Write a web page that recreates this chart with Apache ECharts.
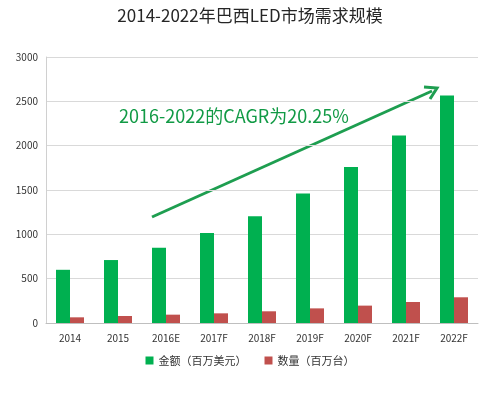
<!DOCTYPE html>
<html><head><meta charset="utf-8">
<script src="https://cdn.jsdelivr.net/npm/echarts@6/dist/echarts.min.js"></script>
<style>html,body{margin:0;padding:0;background:#fff}#c{width:500px;height:395px}</style>
</head><body><div id="c"></div>
<script>
const categories = ['2014','2015','2016E','2017F','2018F','2019F','2020F','2021F','2022F'];
const amount = [600, 710, 850, 1015, 1205, 1460, 1760, 2115, 2565];
const quantity = [64, 79, 94, 109, 132, 165, 196, 237, 290];
const seriesNames = ['金额（百万美元）', '数量（百万台）'];
const yTicks = [0, 500, 1000, 1500, 2000, 2500, 3000];

const chart = echarts.init(document.getElementById('c'));
const font = '"Noto Sans CJK SC", "Noto Sans", sans-serif';
chart.setOption({
  animation: false,
  backgroundColor: '#fff',
  title: {
    text: '2014-2022年巴西LED市场需求规模',
    left: 'center', top: 2,
    textStyle: {fontFamily: font, fontSize: 17, fontWeight: 'normal', color: '#262626'}
  },
  grid: {left: 46, right: 22, top: 57, bottom: 72},
  legend: {
    bottom: 24, left: 'center', itemWidth: 8, itemHeight: 8, itemGap: 18,
    icon: 'rect',
    textStyle: {fontFamily: font, fontSize: 11, color: '#333'},
    data: seriesNames
  },
  xAxis: {
    type: 'category', data: categories,
    axisLine: {lineStyle: {color: '#bfbfbf'}},
    axisTick: {show: false},
    axisLabel: {fontFamily: font, fontSize: 10, color: '#333', margin: 10}
  },
  yAxis: {
    type: 'value', min: yTicks[0], max: yTicks[yTicks.length - 1], interval: 500,
    axisLine: {show: true, lineStyle: {color: '#d0d0d0'}},
    axisTick: {show: false},
    splitLine: {lineStyle: {color: '#d9d9d9'}},
    axisLabel: {fontFamily: font, fontSize: 10, color: '#333', margin: 8, formatter: v => String(v)}
  },
  series: [
    {name: seriesNames[0], type: 'bar', data: amount, barWidth: 14, barGap: '0%', itemStyle: {color: '#00b050'}},
    {name: seriesNames[1], type: 'bar', data: quantity, barWidth: 14, itemStyle: {color: '#c0504d'}}
  ],
  graphic: [
    {type: 'line', shape: {x1: 152, y1: 217, x2: 432, y2: 91}, style: {stroke: '#1e9e50', lineWidth: 3}},
    {type: 'polyline', shape: {points: [[424, 87], [437, 88], [430, 99]]}, style: {stroke: '#1e9e50', lineWidth: 3, fill: null}},
    {type: 'text', x: 119, y: 116, style: {text: '2016-2022的CAGR为20.25%', font: '18px ' + font, fill: '#119a45', textVerticalAlign: 'middle'}}
  ]
});
</script></body></html>
